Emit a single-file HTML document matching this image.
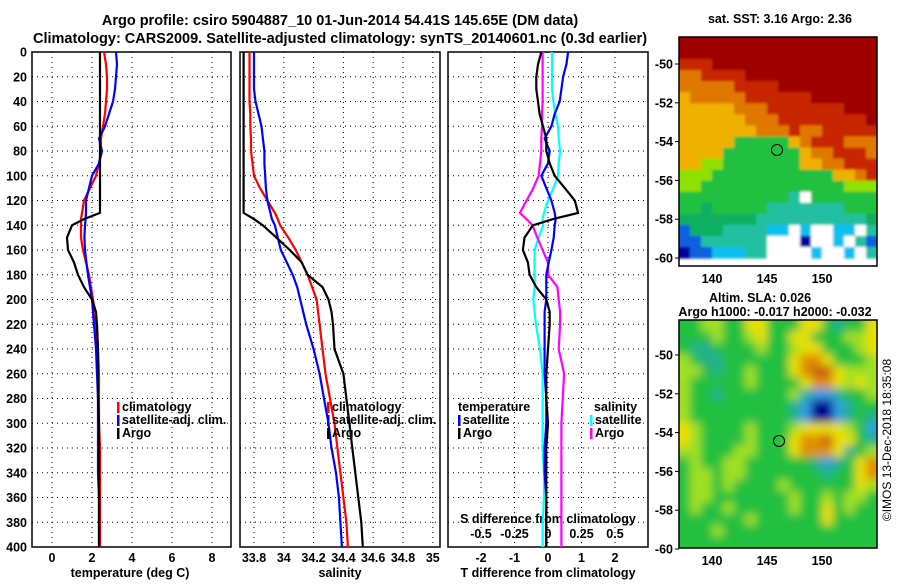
<!DOCTYPE html>
<html><head><meta charset="utf-8"><style>
body{margin:0;background:#fff;}
svg text{font-family:"Liberation Sans",sans-serif;font-weight:bold;font-size:12.5px;fill:#000;}
</style></head><body>
<svg id="c" xmlns="http://www.w3.org/2000/svg" width="900" height="580" viewBox="0 0 900 580">
<defs>
<filter id="blur1" x="-5%" y="-5%" width="110%" height="110%"><feGaussianBlur stdDeviation="1.2"/></filter>
<filter id="blur2" x="-5%" y="-5%" width="110%" height="110%"><feGaussianBlur stdDeviation="4.5"/></filter>
<clipPath id="clip1"><rect x="679" y="37" width="198" height="229"/></clipPath>
<clipPath id="clip2"><rect x="679" y="320" width="198" height="228"/></clipPath>
</defs>
<rect width="900" height="580" fill="#fff"/>
<text x="340" y="25" text-anchor="middle" style="font-size:14.5px">Argo profile: csiro 5904887_10 01-Jun-2014 54.41S 145.65E (DM data)</text>
<text x="340" y="43" text-anchor="middle" style="font-size:14.5px">Climatology: CARS2009. Satellite-adjusted climatology: synTS_20140601.nc (0.3d earlier)</text>
<g id="g"></g>
</svg>
<script>
const depths=[0,10,20,30,40,50,60,70,80,90,100,110,120,130,135,140,150,160,170,180,190,200,210,220,240,260,280,300,320,340,360,380,400];
const tempArgo=[2.4,2.4,2.4,2.4,2.4,2.4,2.4,2.4,2.4,2.4,2.4,2.4,2.4,2.4,1.6,1.0,0.75,0.8,1.1,1.3,1.6,2.0,2.2,2.25,2.3,2.3,2.3,2.35,2.35,2.35,2.35,2.35,2.35];
const tempClim=[2.6,2.7,2.75,2.75,2.7,2.65,2.55,2.45,2.45,2.35,2.2,1.9,1.6,1.5,1.45,1.45,1.45,1.55,1.7,1.85,1.95,2.05,2.15,2.2,2.3,2.35,2.35,2.35,2.4,2.4,2.4,2.4,2.4];
const tempSat=[3.2,3.25,3.2,3.15,3.05,2.85,2.65,2.35,2.5,2.35,2.0,1.85,1.7,1.7,1.68,1.65,1.62,1.65,1.72,1.8,1.9,2.0,2.05,2.1,2.2,2.25,2.3,2.3,2.3,2.3,2.35,2.35,2.35];
const salArgo=[33.73,33.73,33.73,33.73,33.73,33.73,33.73,33.73,33.73,33.73,33.73,33.73,33.73,33.73,33.8,33.86,33.95,34.04,34.12,34.16,34.26,34.3,34.32,34.33,34.34,34.4,34.42,34.44,34.46,34.48,34.5,34.52,34.53];
const salClim=[33.77,33.77,33.77,33.77,33.77,33.775,33.775,33.78,33.78,33.79,33.8,33.84,33.89,33.94,33.96,33.975,34.03,34.08,34.12,34.16,34.19,34.22,34.23,34.24,34.26,34.28,34.31,34.34,34.36,34.38,34.4,34.42,34.43];
const salSat=[33.8,33.8,33.8,33.8,33.81,33.83,33.85,33.86,33.87,33.87,33.875,33.88,33.89,33.91,33.92,33.94,33.96,33.98,34.02,34.06,34.09,34.11,34.13,34.15,34.2,34.24,34.27,34.3,34.32,34.35,34.37,34.38,34.39];
const depthTicks=[0,20,40,60,80,100,120,140,160,180,200,220,240,260,280,300,320,340,360,380,400];
const tempTicks=[0,2,4,6,8];
const salTicks=[33.8,34,34.2,34.4,34.6,34.8,35];
const salTickLabels=["33.8","34","34.2","34.4","34.6","34.8","35"];
const tdiffTicks=[-2,-1,0,1,2];
const sdiffTicks=[-0.5,-0.25,0,0.25,0.5];
const sdiffTickLabels=["-0.5","-0.25","0","0.25","0.5"];
const latTicks=[-50,-52,-54,-56,-58,-60];
const lonTicks=[140,145,150];

const NS="http://www.w3.org/2000/svg";
const G=document.getElementById('g');
function el(t,a,p){const e=document.createElementNS(NS,t);for(const k in a)e.setAttribute(k,a[k]);(p||G).appendChild(e);return e;}
const Y0=52,Y1=547;
const yD=d=>Y0+(d/400)*(Y1-Y0);
const xT=v=>52+v*20;
const xS=v=>254+(v-33.8)*149;
const xTd=v=>548+v*33.5;
const xSd=v=>548+v*134;

const panels=[[32,231,'temperature-panel'],[240,440,'salinity-panel'],[448,648,'difference-panel']];
panels.forEach(p=>{
  const r=el('rect',{x:p[0],y:Y0,width:p[1]-p[0],height:Y1-Y0,fill:'none',stroke:'#000','stroke-width':1.5});
  
  
  depthTicks.slice(1,-1).forEach(d=>{
    const l=el('line',{x1:p[0],x2:p[1],y1:yD(d),y2:yD(d),stroke:'#000','stroke-dasharray':'1 4','stroke-width':1});
    
    
  });
});
function vgrid(xs,name){xs.forEach(x=>{const l=el('line',{x1:x,x2:x,y1:Y0,y2:Y1,stroke:'#000','stroke-dasharray':'1 4'});
  
  });}
vgrid(tempTicks.map(xT),'temp-gridline');
vgrid(salTicks.map(xS),'sal-gridline');
vgrid(tdiffTicks.map(xTd),'tdiff-gridline');
function txt(x,y,s,name,anchor,extra){const t=el('text',Object.assign({x:x,y:y,'text-anchor':anchor||'middle'},extra||{}));t.textContent=s;
  
  return t;}
depthTicks.forEach(d=>txt(27,yD(d)+4.5,String(d),'depth-tick-label','end'));
tempTicks.forEach(v=>txt(xT(v),562,String(v),'temp-tick-label'));
salTicks.forEach((v,i)=>txt(xS(v),562,salTickLabels[i],'sal-tick-label'));
tdiffTicks.forEach(v=>txt(xTd(v),562,String(v),'tdiff-tick-label'));
sdiffTicks.forEach((v,i)=>txt(xSd(v),538,sdiffTickLabels[i],'sdiff-tick-label'));
txt(130,577,'temperature (deg C)','temp-axis-title');
txt(340,577,'salinity','sal-axis-title');
txt(548,577,'T difference from climatology','tdiff-axis-title');
txt(548,523,'S difference from climatology','sdiff-axis-title');

function line(vals,xf,color,name,w){
  const pts=vals.map((v,i)=>xf(v).toFixed(1)+','+yD(depths[i]).toFixed(1)).join(' ');
  const l=el('polyline',{points:pts,fill:'none',stroke:color,'stroke-width':w||2.2});
  
  
}
line(tempClim,xT,'#f00','temp-climatology-line');
line(tempSat,xT,'#00f','temp-satellite-line');
line(tempArgo,xT,'#000','temp-argo-line');
line(salClim,xS,'#f00','sal-climatology-line');
line(salSat,xS,'#00f','sal-satellite-line');
line(salArgo,xS,'#000','sal-argo-line');
line(salSat.map((v,i)=>v-salClim[i]),xSd,'#0ff','sdiff-satellite-line');
line(salArgo.map((v,i)=>v-salClim[i]),xSd,'#f0f','sdiff-argo-line');
line(tempSat.map((v,i)=>v-tempClim[i]),xTd,'#00f','tdiff-satellite-line');
line(tempArgo.map((v,i)=>v-tempClim[i]),xTd,'#000','tdiff-argo-line');

function legend(x,y,items,name){items.forEach((it,i)=>{
  const r=el('rect',{x:x,y:y+i*13-9,width:2.5,height:11,fill:it[1]});
  
  
  txt(x+5,y+i*13,it[0],name+'-entry','start');
});}
legend(117,411,[['climatology','#f00'],['satellite-adj. clim.','#00f'],['Argo','#000']],'temp-legend');
legend(327,411,[['climatology','#f00'],['satellite-adj. clim.','#00f'],['Argo','#000']],'sal-legend');
txt(458,411,'temperature','tdiff-legend-title','start');
legend(458,424,[['satellite','#00f'],['Argo','#000']],'tdiff-legend');
txt(594,411,'salinity','sdiff-legend-title','start');
legend(590,424,[['satellite','#0ff'],['Argo','#f0f']],'sdiff-legend');

// Maps
const C1={D:'#a00000',R:'#c82800',O:'#e07800',Y:'#f0b000',y:'#f0e000',L:'#90e000',G:'#20c040',g:'#10b060',T:'#20c0a0',C:'#10c0f0',B:'#1060e0',N:'#0000a0',W:'#ffffff'};
const sstGrid=["DDDDDDDDDDDDDDDDDD","DDDDDDDDDDDDDDDDDD","RRRDDDDDDDDDDDDDDD","OORRRRDDDDDDDDDDDD","OOOOORRRRDDDDDDDDD","YOOOOORRRRRRDDDDDD","YYYYYOOORRRRRRRDDD","YYYYYYOOORRRRRRRRD","YYYYYYYOOOROORRRRR","YYYYYGGGGGYORRROOO","YYYYGGGGGGGYOORRRO","YYLLGGGGGGGYYOORRR","LLLGGGGGGGGGGGYYOR","LLGGGGGGGGGGGGGLLL","GGGGGGGGGGTWGGGGGG","GGgGGGGGTTTTTTTGGG","gggggggTTTTTTTTTTg","BgggTTTTCCWCWWCCWT","BBTTTTTTWWWNWWCWTB","NBBCCCTTWWWWCWWCWT"];
const C2={G:'#20c040',L:'#a0e020',y:'#e8e000',O:'#e09000',R:'#c86010',T:'#20b090',C:'#30a0e0',N:'#000090'};
const slaGrid=["GGLLGGyyGGGyyGTGGy","GGGLGGLyGGyyGGGLLy","GTTGGGGLGGLyyGGGLy","LGTTGGGGGGyOOyGGGL","LLGTGGLGGGyORRyLLL","LGGGGGLGGGGyOOyLyL","LGGTGGGGGGLTCCTGGL","LGGGGGGGGGTCNNCTGG","LGGGGGGGGGTCNNCTGT","yLGGGGLGGGLyyyyLGC","yLGGGGLGGGyOORyyGT","LLGGGLLGGGyOOOyTGL","GLGGLLGGGGGGTCTGyO","GLLGLLGGGGGGGTGGyO","GLLGLGGGGLGGGGGGyL","GLLGGGGGGGLGGLGLLG","GLGGLGGGGGLGGyGLGG","GGGGGGLGGGGGGyGGGG","GGGLGGGGGGGGGGGGGG","GGGGGGGGGGGGGGGGGG"];
function drawMap(grid,cols,x0,y0,w,h,name,clip,filt){
  const outer=el('g',{'clip-path':'url(#'+clip+')'});
  
  
  const gg=el('g',{filter:'url(#'+filt+')'},outer);
  const cw=w/18,ch=h/grid.length;
  grid.forEach((row,r)=>{[...row].forEach((c,k)=>{
    // extend edge cells outward so blur doesn't fade borders
    const ex0=k===0?-8:0, ex1=k===17?8:0, ey0=r===0?-8:0, ey1=(r===grid.length-1&&name==='sla-map')?8:0;
    const e=el('rect',{x:(x0+k*cw+ex0).toFixed(2),y:(y0+r*ch+ey0).toFixed(2),width:(cw+0.6-ex0+ex1).toFixed(2),height:(ch+0.6-ey0+ey1).toFixed(2),fill:cols[c]},gg);
    
    
  });});
}
drawMap(sstGrid,C1,679,37,198,221,'sst-map','clip1','blur1');
drawMap(slaGrid,C2,679,320,198,228,'sla-map','clip2','blur2');
[[37,266,'sst-map-frame',64],[320,548,'sla-map-frame',355]].forEach(m=>{
  const r=el('rect',{x:679,y:m[0],width:198,height:m[1]-m[0],fill:'none',stroke:'#000','stroke-width':1.5});
  
  
  latTicks.forEach(v=>{const y=m[3]+(-50-v)*19.4;
    const t=el('line',{x1:679,x2:675,y1:y,y2:y,stroke:'#000'});
    
    
    txt(673,y+4.5,String(v),'lat-tick-label','end');});
  lonTicks.forEach(v=>{const x=712+(v-140)*11;
    txt(x,m[1]+17,String(v),'lon-tick-label');});
});
[[777,150,'sst-argo-marker'],[779,441,'sla-argo-marker']].forEach(c=>{
  const e=el('circle',{cx:c[0],cy:c[1],r:5.5,fill:'none',stroke:'#000','stroke-width':1});
  
  
});
txt(780,23,'sat. SST: 3.16 Argo: 2.36','sst-map-title');
txt(760,302,'Altim. SLA: 0.026','sla-map-title');
txt(775,316,'Argo h1000: -0.017 h2000: -0.032','sla-map-subtitle');
txt(891,440,'©IMOS 13-Dec-2018 18:35:08','imos-timestamp','middle',{transform:'rotate(-90 891 440)',style:'font-weight:normal;font-size:12px'});
</script>
</body></html>
